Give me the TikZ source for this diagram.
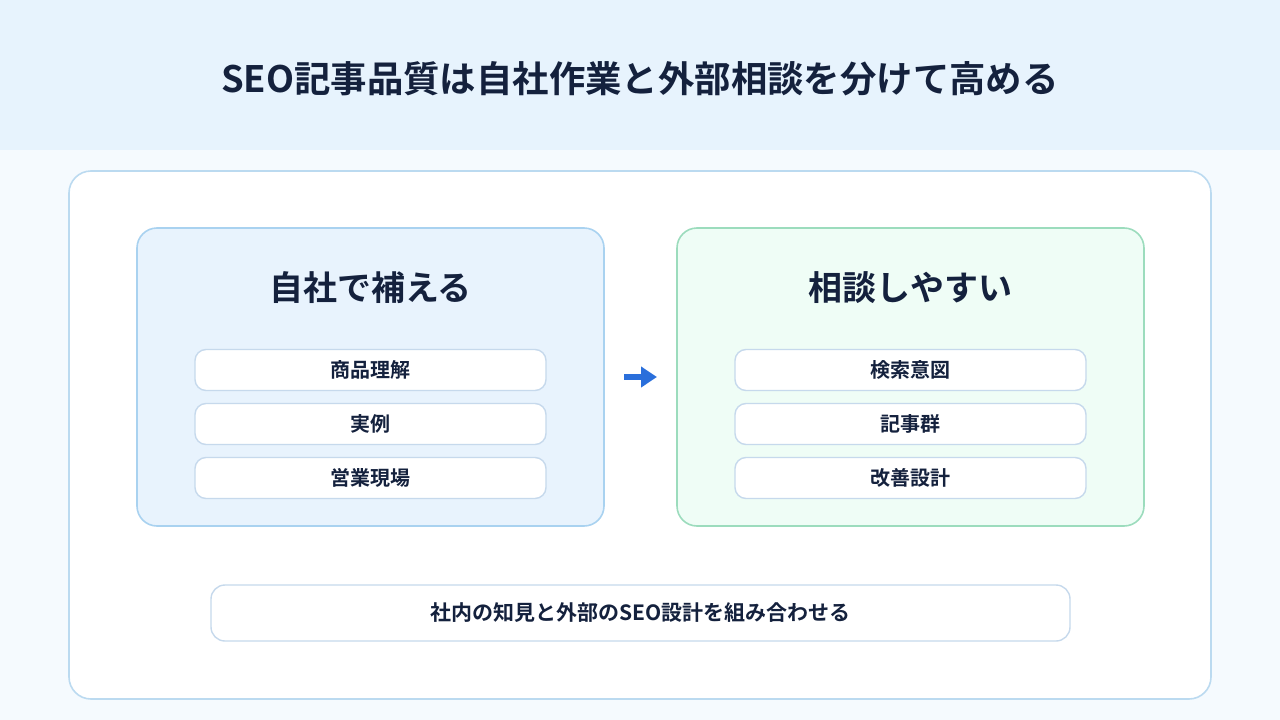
\documentclass[tikz,border=0pt]{standalone}
\usepackage{fontspec}
\setmainfont{Noto Sans CJK JP Bold}
\usetikzlibrary{arrows.meta}
\definecolor{ink}{HTML}{14213D}
\definecolor{headbg}{HTML}{E7F3FD}
\definecolor{pagebg}{HTML}{F5FAFE}
\definecolor{panelline}{HTML}{BBDAF0}
\definecolor{lfill}{HTML}{E8F3FD}
\definecolor{lline}{HTML}{A9D2F0}
\definecolor{rfill}{HTML}{EFFDF6}
\definecolor{rline}{HTML}{9CDCBD}
\definecolor{itemline}{HTML}{C6D9EC}
\definecolor{arrowc}{HTML}{2A6FDB}
\tikzset{
  panel/.style={draw=panelline, line width=1.6pt, fill=white, rounded corners=22pt, inner sep=0pt},
  group/.style={line width=1.6pt, rounded corners=20pt, inner sep=0pt, minimum width=467pt, minimum height=298pt},
  item/.style={draw=itemline, line width=1.4pt, fill=white, rounded corners=11pt, inner sep=0pt, minimum width=351pt, minimum height=41pt, text=ink, font=\fontsize{20}{24}\selectfont},
  gtitle/.style={text=ink, font=\fontsize{34}{40}\selectfont, inner sep=0pt},
  flow/.style={draw=arrowc, line width=5.5pt, -{Triangle[length=16pt,width=20pt]}}
}
\begin{document}
\begin{tikzpicture}[x=1pt,y=-1pt]
\useasboundingbox (0,0) rectangle (1280,720);
\fill[pagebg] (0,0) rectangle (1280,720);
\fill[headbg] (0,0) rectangle (1280,150);
\node[text=ink, font=\fontsize{36.4}{42}\selectfont, inner sep=0pt] (title) at (640,79) {SEO記事品質は自社作業と外部相談を分けて高める};
\node[panel, minimum width=1142pt, minimum height=528pt] (panel) at (640,435) {};
\node[group, draw=lline, fill=lfill] (L) at (370.5,377) {};
\node[group, draw=rline, fill=rfill] (R) at (910.5,377) {};
\node[gtitle] (Lt) at (370.5,288) {自社で補える};
\node[gtitle] (Rt) at (910.5,288) {相談しやすい};
\node[item] (L1) at (370.5,370) {商品理解};
\node[item] (L2) at (370.5,424) {実例};
\node[item] (L3) at (370.5,478) {営業現場};
\node[item] (R1) at (910.5,370) {検索意図};
\node[item] (R2) at (910.5,424) {記事群};
\node[item] (R3) at (910.5,478) {改善設計};
\coordinate (a1) at (624,377);
\coordinate (a2) at (657,377);
\draw[flow] (a1) -- (a2);
\node[item, minimum width=859pt, minimum height=56pt, rounded corners=14pt, font=\fontsize{21}{25}\selectfont] (bottom) at (640.5,613) {社内の知見と外部のSEO設計を組み合わせる};
\end{tikzpicture}
\end{document}
